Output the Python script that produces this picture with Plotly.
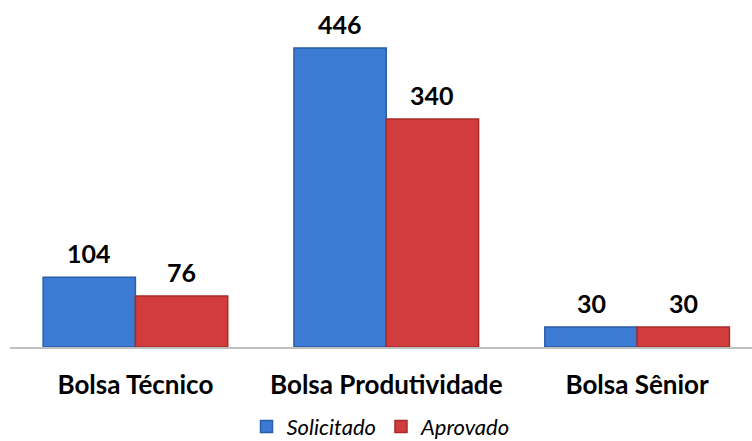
import plotly.graph_objects as go

categories = ["Bolsa Técnico", "Bolsa Produtividade", "Bolsa Sênior"]
solicitado = [104, 446, 30]
aprovado = [76, 340, 30]

FONT = "Lato"
BLUE = "#3b7bd3"
RED = "#d13d3d"

fig = go.Figure()
fig.add_trace(go.Bar(
    name="Solicitado", x=categories, y=solicitado,
    marker=dict(color=BLUE, line=dict(color="#2a5ea8", width=1.5)),
))
fig.add_trace(go.Bar(
    name="Aprovado", x=categories, y=aprovado,
    marker=dict(color=RED, line=dict(color="#a82b2b", width=1.5)),
))

# value labels above each bar
for vals, shift in ((solicitado, -46), (aprovado, 46)):
    for c, v in zip(categories, vals):
        fig.add_annotation(x=c, y=v, text=str(v), showarrow=False,
                           xshift=shift, yshift=7, yanchor="bottom",
                           font=dict(family=FONT, size=25, color="black", weight="bold"))

fig.update_layout(
    width=752, height=441,
    margin=dict(l=10, r=0, t=0, b=94, autoexpand=False),
    paper_bgcolor="white", plot_bgcolor="white",
    barmode="group", bargap=0.264, bargroupgap=0,
    showlegend=True,
    legend=dict(orientation="h", x=0.5, xanchor="center", y=-0.29, yanchor="bottom",
                font=dict(family=FONT, size=22, color="black", style="italic"),
                itemwidth=30, traceorder="normal", tracegroupgap=0),
    xaxis=dict(range=[-0.5, 2.458], showline=True, linecolor="#bfbfbf", linewidth=1.5,
               ticks="outside", ticklen=14, tickcolor="rgba(0,0,0,0)",
               tickfont=dict(family=FONT, size=26, color="black", weight="bold"),
               showgrid=False, zeroline=False, fixedrange=True),
    yaxis=dict(range=[0, 517.6], visible=False, showgrid=False, fixedrange=True),
)

fig.write_html("out.html", config={"displayModeBar": False},
               post_script="document.body.style.margin='0';")
